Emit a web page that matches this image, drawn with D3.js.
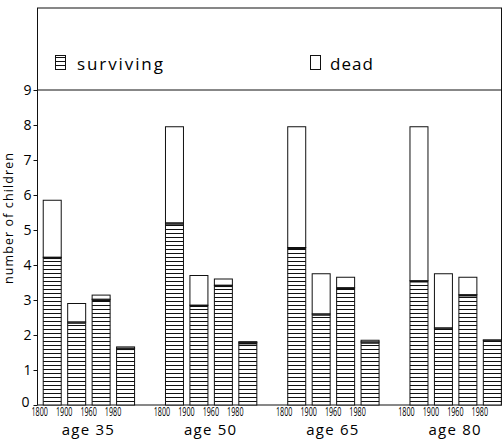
<!DOCTYPE html>
<html>
<head>
<meta charset="utf-8">
<script src="https://cdn.jsdelivr.net/npm/d3@7"></script>
<style>
  html, body { margin: 0; padding: 0; background: #fff; }
  svg { display: block; }
  text { fill: #000; font-family: "Open Sans", "DejaVu Sans", sans-serif; }
</style>
</head>
<body>
<svg id="chart" width="503" height="440"></svg>
<script>
// ---- data ----
const ages = ["age 35", "age 50", "age 65", "age 80"];
const years = ["1800", "1900", "1960", "1980"];
const yTicks = [0, 1, 2, 3, 4, 5, 6, 7, 8, 9];

const survivingAge35 = [4.22, 2.37, 3.02, 1.62];
const totalAge35     = [5.85, 2.90, 3.14, 1.66];
const survivingAge50 = [5.20, 2.85, 3.42, 1.78];
const totalAge50     = [7.95, 3.70, 3.60, 1.81];
const survivingAge65 = [4.50, 2.60, 3.35, 1.80];
const totalAge65     = [7.95, 3.75, 3.65, 1.85];
const survivingAge80 = [3.55, 2.20, 3.15, 1.85];
const totalAge80     = [7.95, 3.75, 3.65, 1.86];

const survivingByAge = [survivingAge35, survivingAge50, survivingAge65, survivingAge80];
const totalByAge = [totalAge35, totalAge50, totalAge65, totalAge80];

const rows = [];
ages.forEach((a, i) => years.forEach((yr, j) => {
  rows.push({ age: a, year: yr, surv: survivingByAge[i][j], total: totalByAge[i][j] });
}));

// ---- layout ----
const svg = d3.select("#chart");
const ink = "#111";
const textFont = "'Open Sans', 'DejaVu Sans', sans-serif";
const frameLeft = 37.5, frameRight = 501.5, frameTop = 8, legendBottom = 90, plotBottom = 405;

const x0 = d3.scaleBand().domain(ages).range([39.5, 39.5 + 4 * 122.25]).padding(0);
const x1 = d3.scaleBand().domain(years).range([0, 4 * 24.45]).paddingInner(0.264).paddingOuter(0.132);
const y = d3.scaleLinear().domain([0, 9]).range([plotBottom, legendBottom]);

// hatch pattern
const defs = svg.append("defs");
const pat = defs.append("pattern").attr("id", "hatch")
  .attr("patternUnits", "userSpaceOnUse").attr("width", 8).attr("height", 4)
  .attr("y", plotBottom);
pat.append("rect").attr("width", 8).attr("height", 4).attr("fill", "#fff");
pat.append("line").attr("x1", 0).attr("x2", 8).attr("y1", 0.5).attr("y2", 0.5)
  .attr("stroke", ink).attr("stroke-width", 1);

// frame
svg.append("rect").attr("x", frameLeft).attr("y", frameTop)
  .attr("width", frameRight - frameLeft).attr("height", plotBottom - frameTop)
  .attr("fill", "none").attr("stroke", ink).attr("stroke-width", 1);
svg.append("line").attr("x1", frameLeft).attr("x2", frameRight).attr("y1", legendBottom).attr("y2", legendBottom)
  .attr("stroke", ink).attr("stroke-width", 1);

// legend
const lg = svg.append("g");
lg.append("rect").attr("x", 55.5).attr("y", 55.5).attr("width", 10).attr("height", 14)
  .attr("fill", "url(#hatch)").attr("stroke", ink);
lg.append("text").attr("x", 77).attr("y", 70).attr("font-size", 17).attr("letter-spacing", 1.9)
  .attr("font-family", textFont)
  .text("surviving");
lg.append("rect").attr("x", 310.5).attr("y", 55.5).attr("width", 10).attr("height", 14)
  .attr("fill", "#fff").attr("stroke", ink);
lg.append("text").attr("x", 330).attr("y", 70).attr("font-size", 17).attr("letter-spacing", 1)
  .attr("font-family", textFont)
  .text("dead");

// y axis
const yAxis = d3.axisLeft(y).tickValues(yTicks).tickSize(4).tickPadding(2).tickFormat(d3.format("d"));
const ya = svg.append("g").attr("transform", `translate(${frameLeft},0)`).call(yAxis);
ya.select(".domain").remove();
ya.selectAll("line").attr("stroke", ink);
ya.selectAll("text").attr("font-size", 14).attr("fill", "#000")
  .attr("font-family", textFont);
ya.selectAll(".tick").filter(d => d === 0).select("text").attr("dy", "0.1em").attr("x", -8);

svg.append("text").attr("transform", `translate(13,218) rotate(-90)`)
  .attr("text-anchor", "middle").attr("font-size", 12.5).attr("letter-spacing", 1.1)
  .attr("font-family", textFont)
  .text("number of children");

// bars
const g = svg.append("g");
const bars = g.selectAll("g.bar").data(rows).join("g").attr("class", "bar")
  .attr("transform", d => `translate(${x0(d.age) + x1(d.year)},0)`);
bars.append("rect")
  .attr("x", 0.5).attr("width", x1.bandwidth())
  .attr("y", d => y(d.total)).attr("height", d => y(d.surv) - y(d.total))
  .attr("fill", "#fff").attr("stroke", ink);
bars.append("rect")
  .attr("x", 0.5).attr("width", x1.bandwidth())
  .attr("y", d => y(d.surv)).attr("height", d => y(0) - y(d.surv))
  .attr("fill", "url(#hatch)").attr("stroke", ink);
bars.append("line")
  .attr("x1", 0.5).attr("x2", x1.bandwidth() + 0.5)
  .attr("y1", d => y(d.surv) + 1).attr("y2", d => y(d.surv) + 1)
  .attr("stroke", ink).attr("stroke-width", 1.5);

// x labels (condensed plotter-style digits)
const xl = svg.append("g");
xl.selectAll("text").data(rows).join("text")
  .attr("transform", d => `translate(${x0(d.age) + x1(d.year) + x1.bandwidth() / 2 - 12},416) scale(0.6,1)`)
  .attr("text-anchor", "middle")
  .attr("font-size", 12)
  .attr("font-family", "'DejaVu Sans', sans-serif")
  .text(d => d.year);

svg.append("g").selectAll("text").data(ages).join("text")
  .attr("x", d => x0(d) + 2 * 24.45)
  .attr("y", 435).attr("text-anchor", "middle").attr("font-size", 15).attr("letter-spacing", 1.2)
  .attr("font-family", textFont)
  .text(d => d);
</script>
</body>
</html>
